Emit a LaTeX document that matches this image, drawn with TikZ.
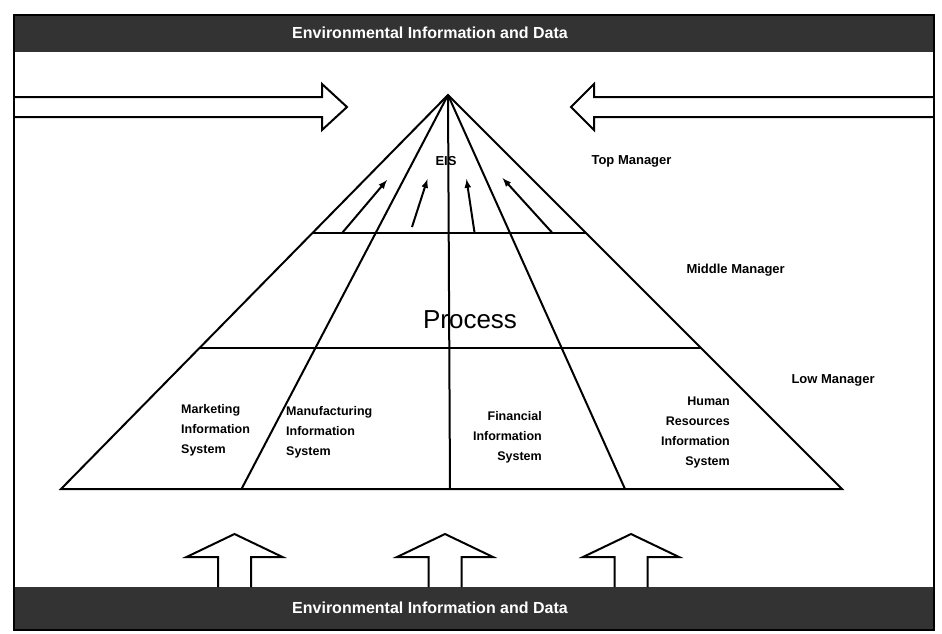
\documentclass[tikz,border=0pt]{standalone}
\usepackage{fontspec}
\setmainfont{Liberation Sans}
\usetikzlibrary{calc}
\newcommand{\uparr}[1]{\draw[blk] (#1-16.5,587) -- (#1-16.5,557) -- (#1-48,557) -- (#1,534) -- (#1+48,557) -- (#1+16.5,557) -- (#1+16.5,587);}
\tikzset{
  pyr/.style={line width=2pt},
  blk/.style={line width=2pt,line join=miter},
  eisarr/.style={line width=2pt,-latex},
  bandtxt/.style={text=white,font=\bfseries\fontsize{16}{18}\selectfont},
  lvl/.style={font=\bfseries\fontsize{13}{15}\selectfont,anchor=west},
  sys/.style={font=\bfseries\fontsize{12.5}{20}\selectfont,inner sep=0pt}
}

\begin{document}
\begin{tikzpicture}[x=1pt,y=-1pt]
        \useasboundingbox (0,0) rectangle (942,633);
        % bands and frame
        \fill[black!80] (14,15) rectangle (934,52);
        \fill[black!80] (14,587) rectangle (934,630);
        \draw[line width=2pt] (14,15) rectangle (934,630);
        \node[bandtxt] (envtop) at (430,33) {Environmental Information and Data};
        \node[bandtxt] (envbot) at (430,608) {Environmental Information and Data};
        % side arrows
        \draw[blk] (14,97) -- (322,97) -- (322,84) -- (347,107) -- (322,130) -- (322,117) -- (14,117);
        \draw[blk] (934,97) -- (594,97) -- (594,84) -- (571,107) -- (594,130) -- (594,117) -- (934,117);
        % pyramid
        \coordinate (apex) at (448,95);
        \coordinate (bl) at (61,489);
        \coordinate (br) at (842,489);
        \coordinate (b2) at (241.5,489);
        \coordinate (b3) at (450,489);
        \coordinate (b4) at (625,489);
        \coordinate (t1) at ($(apex)!0.349!(bl)$);
        \coordinate (t2) at ($(apex)!0.349!(br)$);
        \coordinate (m1) at ($(apex)!0.642!(bl)$);
        \coordinate (m2) at ($(apex)!0.642!(br)$);
        \draw[pyr] (apex) -- (bl) -- (br) -- cycle;
        \draw[pyr] (apex) -- (b2);
        \draw[pyr] (apex) -- (b3);
        \draw[pyr] (apex) -- (b4);
        \draw[pyr] (t1) -- (t2);
        \draw[pyr] (m1) -- (m2);
        % arrows into EIS
        \coordinate (s1) at (342.5,232.5);
        \coordinate (e1) at (387,180);
        \coordinate (s2) at (412,227);
        \coordinate (e2) at (427.5,179);
        \coordinate (s3) at (474.5,232.5);
        \coordinate (e3) at (466.5,179);
        \coordinate (s4) at (552,232.5);
        \coordinate (e4) at (502.5,178);
        \draw[eisarr] (s1) -- (e1);
        \draw[eisarr] (s2) -- (e2);
        \draw[eisarr] (s3) -- (e3);
        \draw[eisarr] (s4) -- (e4);
        % labels
        \node[font=\bfseries\fontsize{13}{15}\selectfont] (eis) at (446,161) {EIS};
        \node[font=\fontsize{26}{28}\selectfont] (process) at (470,320) {Process};
        \node[lvl] (top) at (588,161) {Top Manager};
        \node[lvl] (middle) at (683,270) {Middle Manager};
        \node[lvl] (low) at (788,380) {Low Manager};
        \node[sys,align=left,anchor=north west] (mkt) at (181,404) {Marketing\\Information\\System};
        \node[sys,align=left,anchor=north west] (mfg) at (286,406) {Manufacturing\\Information\\System};
        \node[sys,align=right,anchor=north east] (fin) at (542,411) {Financial\\Information\\System};
        \node[sys,align=right,anchor=north east] (hr) at (730,397) {Human\\Resources\\Information\\System};
        % bottom arrows
        \uparr{234.5}
        \uparr{445}
        \uparr{631}
\end{tikzpicture}
\end{document}
